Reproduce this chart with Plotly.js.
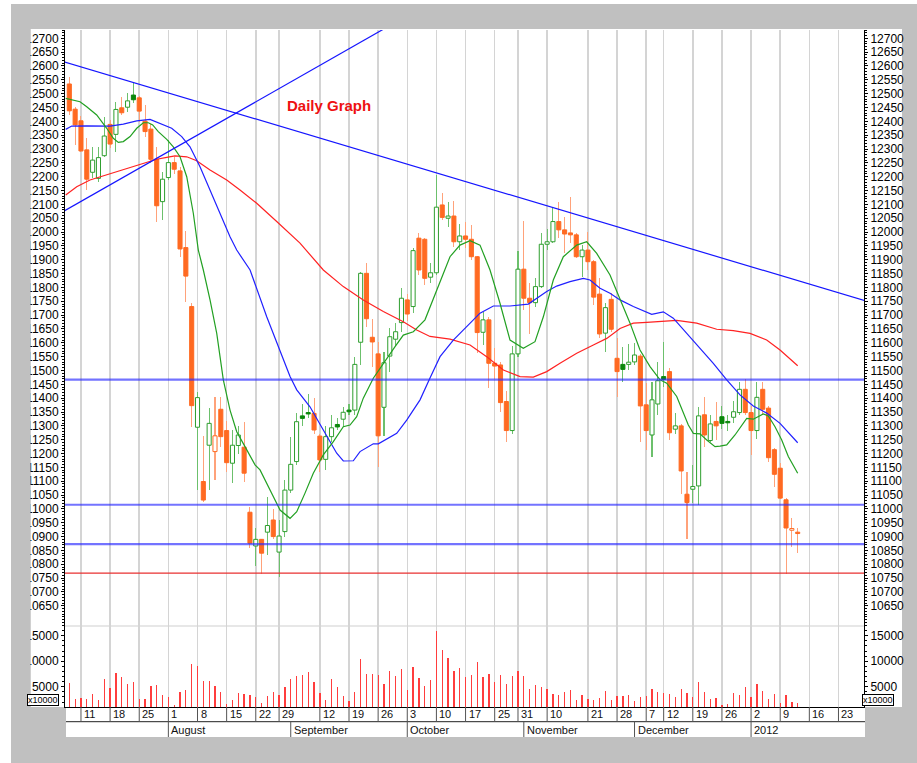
<!DOCTYPE html>
<html>
<head>
<meta charset="utf-8">
<script src="https://cdn.plot.ly/plotly-3.0.1.min.js"></script>
<style>html,body{margin:0;padding:0;background:#fff;}#chart{width:917px;height:763px;}</style>
</head>
<body>
<div id="chart"></div>
<script>
// ---- DATA (trading-day index 0 = first candle) ----
const openP  = [12535,12444,12402,12297,12216,12194,12276,12389,12353,12449,12451,12495,12485,12401,12372,12263,12110,12197,12251,12221,
11944,11731,11295,11099,11230,11207,11360,11283,11165,11229,11223,10988,10866,10890,10916,10960,10844,10918,11068,11171,
11336,11348,11345,11263,11179,11261,11305,11324,11357,11357,11602,11851,11620,11560,11367,11552,11613,11673,11755,11731,
11978,11974,11837,11853,12098,12050,12058,11965,11986,11974,11911,11638,11683,11526,11520,11388,11283,11560,11866,11761,
11745,11803,11956,11965,12038,12008,11997,11990,11911,11935,11893,11776,11635,11757,11544,11522,11522,11531,11552,11376,
11267,11379,11478,11496,11288,11300,11053,11071,11083,11340,11247,11316,11333,11316,11331,11348,11432,11348,11283,11432,
11364,11214,11147,11033,10923,10916];
const highP  = [12559,12452,12419,12340,12306,12308,12417,12405,12469,12487,12501,12537,12490,12459,12390,12308,12218,12333,12270,12236,
12004,11745,11424,11264,11364,11406,11406,11319,11285,11300,11315,11008,10930,10892,11042,11000,10960,11105,11261,11345,
11380,11415,11400,11270,11300,11340,11328,11369,11380,11550,11857,11887,11687,11604,11568,11653,11670,11799,11776,11942,
11998,11980,11890,12206,12140,12110,12113,12030,12038,12026,11915,11713,11694,11580,11530,11427,11590,11933,12041,11815,
11835,11996,12010,12092,12110,12056,12126,11995,11953,12001,11900,11833,11745,11780,11616,11586,11595,11600,11560,11454,
11460,11532,11604,11510,11345,11305,11135,11159,11369,11406,11340,11387,11370,11340,11390,11460,11470,11370,11460,11460,
11370,11220,11166,11039,10966,10930];
const lowP   = [12423,12315,12289,12152,12194,12182,12270,12303,12290,12423,12433,12465,12398,12345,12250,12038,12044,12188,12210,11911,
11749,11297,11068,11025,11068,11105,11225,11135,11095,11200,11099,10858,10794,10765,10834,10890,10755,10900,11057,11159,
11300,11330,11270,11133,11140,11240,11285,11297,11340,11339,11520,11658,11514,11153,11264,11494,11590,11640,11680,11707,
11845,11810,11815,11845,12044,12020,11945,11935,11942,11899,11562,11592,11436,11470,11351,11243,11270,11550,11719,11632,
11730,11797,11935,11962,11978,11923,11960,11905,11839,11863,11737,11616,11568,11640,11403,11460,11500,11520,11243,11213,
11189,11339,11440,11250,11270,11054,10890,11020,11014,11225,11240,11249,11290,11280,11310,11339,11340,11195,11252,11340,
11170,11080,11035,10765,10864,10840];
const closeP = [12438,12387,12293,12191,12260,12269,12347,12318,12443,12431,12474,12478,12437,12363,12263,12095,12191,12251,12227,11939,
11841,11373,11402,11032,11309,11264,11261,11167,11230,11267,11129,10876,10890,10840,10940,10900,10902,11068,11161,11315,
11327,11343,11285,11177,11261,11293,11296,11349,11351,11522,11851,11687,11603,11264,11528,11622,11640,11761,11704,11933,
11863,11833,11853,12090,12053,12058,11965,11986,11974,11911,11637,11683,11526,11516,11384,11283,11560,11866,11761,11745,
11803,11956,11965,12038,12008,11993,11990,11911,11935,11893,11765,11632,11727,11649,11496,11504,11530,11556,11372,11283,
11394,11463,11468,11275,11300,11137,11023,11081,11336,11267,11307,11300,11309,11311,11351,11432,11348,11283,11403,11360,
11185,11125,11039,10931,10929,10911];
const volume = [5670,2590,2720,2590,3570,2390,6510,4800,7750,6840,5530,5920,2590,2590,5200,5330,3430,2920,1350,3960,
4410,9450,9060,6120,6120,5140,3960,1610,2390,3820,3570,3370,2920,1800,3240,3960,3430,4940,6510,7160,
7240,7880,5920,3770,2390,6510,4880,3240,2200,3960,10490,7430,7490,7240,5530,8080,7040,8470,4350,8860,
6710,5140,6310,15920,12200,10690,8080,8670,6840,7240,9780,6840,7430,5920,7240,5530,7040,8080,7040,4550,
5330,4940,4550,3630,3370,3960,4350,2390,3370,2590,2390,2720,4220,2390,3180,3180,3370,2200,3040,3180,
4550,3960,3820,3630,2920,4550,3770,3040,5920,3960,2590,2720,1410,1610,3820,3430,4880,3040,5530,4220,
2590,3630,1800,3370,2000,1800];

// moving averages (x = trading-day index)
const maShortX = [-0.62,1.84,2.99,4.70,6.42,7.55,8.41,9.27,10.42,11.57,12.70,13.56,14.31,15.27,16.72,17.85,19.0,20.15,21.28,22.14,23.0,24.15,25.3,26.43,27.58,28.73,30.15,31.87,32.73,34.44,36.16,37.88,39.03,40.45,41.87,43.59,45.31,47.02,48.17,49.32,50.45,52.17,53.89,55.9,57.32,59.04,61.04,63.05,65.33,67.05,68.77,70.48,72.2,73.91,75.63,77.91,79.92,81.35,83.06,84.78,87.08,88.79,90.51,92.79,94.51,96.23,97.94,99.66,101.38,102.52,104.24,106.23,107.09,108.24,109.39,110.81,111.67,112.82,114.24,115.39,116.25,117.38,119.1,119.96,121.11,122.26,123.39,125.0];
const maShort  = [12483,12471,12453,12423,12375,12339,12324,12327,12345,12375,12395,12395,12387,12363,12335,12308,12272,12200,12068,11935,11863,11755,11634,11466,11357,11279,11225,11159,11141,11068,10996,10966,10990,11057,11129,11195,11243,11297,11303,11333,11400,11472,11526,11586,11628,11640,11683,11791,11911,11953,11969,11953,11863,11743,11610,11580,11604,11694,11827,11911,11953,11965,11923,11845,11755,11671,11574,11514,11466,11454,11406,11303,11273,11271,11249,11225,11227,11231,11267,11303,11327,11324,11343,11336,11297,11249,11189,11129];
const maMidX = [-0.62,0.41,2.99,6.98,9.27,11.57,13.85,15.57,17.57,19.29,20.71,22.43,24.15,25.86,27.58,28.73,31.02,33.88,36.16,37.88,39.03,41.3,43.59,45.89,47.02,48.74,49.89,52.17,53.03,56.19,57.9,60.19,61.9,63.62,65.9,68.2,70.48,72.77,75.63,78.77,80.21,81.93,83.64,85.93,88.21,89.36,91.08,92.79,94.51,96.79,99.95,101.94,103.65,105.95,108.24,110.52,112.82,115.1,117.38,119.68,121.97,125.0];
const maMid  = [12371,12383,12384,12383,12390,12402,12407,12393,12375,12345,12308,12236,12152,12068,11983,11935,11863,11694,11574,11478,11430,11369,11285,11201,11173,11174,11207,11235,11235,11273,11321,11394,11473,11550,11610,11658,11707,11733,11733,11740,11761,11785,11805,11821,11833,11827,11797,11779,11755,11731,11703,11712,11689,11634,11580,11526,11466,11412,11372,11346,11309,11239];
const maLongX = [-0.62,1.27,3.55,6.98,9.85,12.7,15.0,16.72,18.14,20.15,21.86,24.15,27.01,29.29,32.16,35.59,39.59,43.59,47.02,50.45,53.89,57.32,59.62,61.9,65.33,68.77,71.63,74.48,77.35,79.63,81.93,84.21,87.08,89.93,92.23,94.51,96.79,99.09,101.94,104.24,107.67,111.1,113.95,116.82,119.68,121.97,125.0];
const maLong  = [12134,12164,12188,12210,12230,12246,12263,12270,12275,12272,12258,12224,12188,12152,12104,12038,11960,11863,11803,11755,11713,11676,11646,11623,11613,11592,11550,11502,11478,11476,11496,11526,11562,11592,11616,11652,11671,11674,11679,11681,11671,11649,11644,11634,11610,11574,11517];

// drawn trend lines and levels
const trendDownX = [-2, 138], trendDownY = [12622, 11743];
const trendUpX   = [-2, 60],  trendUpY   = [12063, 12806];
const blueLevels = [11467, 11015, 10873];
const redLevels  = [10768];

// axis labels
const dayTickIdx    = [2,7,12,17,22,27,32,36,43,48,53,58,63,68,73,77,82,89,94,99,102,107,112,117,122,127,132];
const dayTickLabels = ['11','18','25','1','8','15','22','29','12','19','26','3','10','17','25','31','10','21','28','7','12','19','26','2','9','16','23'];
const monthIdx      = [17,38,58,78,97,117];
const monthLabels   = ['August','September','October','November','December','2012'];
const priceTicks = []; for (let v = 10650; v <= 12700; v += 50) priceTicks.push(v);
const volTicks = [5000,10000,15000];

// ---- styling ----
const ORANGE='#ff6a22', GREEN='#2e9e2e', DKGREEN='#0a870a', OR_WICK='#ffa27a', GR_WICK='#6cc06c';
const FONT='Liberation Sans, Arial, sans-serif';
const XR=[-0.74,136.38];

const idx = closeP.map((_,i)=>i);
const bodyBase=[], bodyLen=[], bodyFill=[], bodyLine=[], wickCol=[], wickBase=[], wickLen=[];
for (let i=0;i<closeP.length;i++){
  const prev = i>0 ? closeP[i-1] : Infinity;
  const up = closeP[i] >= prev;
  const filled = closeP[i] < openP[i];
  const col = up ? GREEN : ORANGE;
  const fill = filled ? (up ? DKGREEN : ORANGE) : '#ffffff';
  bodyBase.push(Math.min(openP[i],closeP[i]));
  bodyLen.push(Math.max(Math.abs(closeP[i]-openP[i]),2));
  bodyFill.push(fill);
  bodyLine.push(filled ? fill : col);
  wickCol.push(up ? GR_WICK : OR_WICK);
  wickBase.push(lowP[i]);
  wickLen.push(highP[i]-lowP[i]);
}

const traces = [];
traces.push({type:'bar', x:idx, y:volume, xaxis:'x', yaxis:'y2', width:0.22,
  marker:{color:'#ff3d3d', line:{width:0}}, hoverinfo:'skip'});
traces.push({type:'bar', x:idx, y:wickLen, base:wickBase, xaxis:'x', yaxis:'y', width:0.18,
  marker:{color:wickCol, line:{width:0}}, hoverinfo:'skip'});
traces.push({type:'bar', x:idx, y:bodyLen, base:bodyBase, xaxis:'x', yaxis:'y', width:0.7,
  marker:{color:bodyFill, line:{color:bodyLine, width:1}}, hoverinfo:'skip'});
traces.push({type:'scatter', mode:'lines', x:maLongX, y:maLong, yaxis:'y', line:{color:'#ff2222', width:1.2}});
traces.push({type:'scatter', mode:'lines', x:maMidX, y:maMid, yaxis:'y', line:{color:'#2020ff', width:1.2}});
traces.push({type:'scatter', mode:'lines', x:maShortX, y:maShort, yaxis:'y', line:{color:'#22a022', width:1.2}});
traces.push({type:'scatter', mode:'lines', x:trendDownX, y:trendDownY, yaxis:'y', line:{color:'#1515ff', width:1.2}});
traces.push({type:'scatter', mode:'lines', x:trendUpX, y:trendUpY, yaxis:'y', line:{color:'#1515ff', width:1.2}});
blueLevels.forEach(v=>traces.push({type:'scatter', mode:'lines', x:[-2,140], y:[v,v], yaxis:'y', line:{color:'rgba(40,40,255,0.65)', width:2.2}}));
redLevels.forEach(v=>traces.push({type:'scatter', mode:'lines', x:[-2,140], y:[v,v], yaxis:'y', line:{color:'#e83030', width:1.3}}));
// anchors for right-hand axes
traces.push({type:'scatter', mode:'markers', x:[null], y:[null], yaxis:'y3', marker:{opacity:0}});
traces.push({type:'scatter', mode:'markers', x:[null], y:[null], yaxis:'y4', marker:{opacity:0}});

// geometry helpers (paper coordinates from pixels of the frame)
const PL=65, PW=799, PT=30, PH=677;
const px=(p)=>(p-PL)/PW, py=(p)=>(PT+PH-p)/PH;
const split = py(626);

const yCommon = {showline:true, linecolor:'#000', linewidth:1, ticks:'outside', ticklen:3, tickcolor:'#000',
  showgrid:false, zeroline:false, tickfont:{family:FONT, size:12, color:'#000'}, tickformat:'d'};
const priceAx = Object.assign({}, yCommon, {domain:[split,1], range:[10577,12730], tickmode:'array', tickvals:priceTicks,
  minor:{tickmode:'linear', tick0:10580, dtick:10, ticks:'outside', ticklen:2, tickcolor:'#000', showgrid:false}});
const volAx = Object.assign({}, yCommon, {domain:[0,split], range:[1020,16903], tickmode:'array', tickvals:volTicks,
  minor:{tickmode:'linear', tick0:0, dtick:1000, ticks:'outside', ticklen:2, tickcolor:'#000', showgrid:false}});

const CLIP = 30.5;
const shapes = [
  {type:'rect', xref:'paper', yref:'paper', x0:px(11), x1:px(917), y0:py(763), y1:py(4), fillcolor:'#c0c0c0', line:{width:0}, layer:'below'},
  {type:'rect', xref:'paper', yref:'paper', x0:px(CLIP), x1:px(902), y0:0, y1:py(29), fillcolor:'#ffffff', line:{width:0}, layer:'below'},
  {type:'rect', xref:'paper', yref:'paper', x0:px(66), x1:px(865), y0:py(737), y1:0, fillcolor:'#ffffff', line:{width:0}, layer:'below'},
  {type:'line', xref:'paper', yref:'paper', x0:0, x1:1, y0:split, y1:split, line:{color:'#cfcfcf', width:1}, layer:'below'},
  {type:'rect', xref:'paper', yref:'paper', x0:px(11), x1:px(CLIP), y0:py(707), y1:py(29), fillcolor:'#c0c0c0', line:{width:0}, layer:'above'},
  {type:'line', xref:'paper', yref:'paper', x0:px(66), x1:px(865), y0:py(721.7), y1:py(721.7), line:{color:'#222', width:1}}
];
dayTickIdx.forEach(t=>shapes.push({type:'line', xref:'x', yref:'paper', x0:t, x1:t, y0:0, y1:py(721.7), line:{color:'#555', width:1}}));
monthIdx.forEach(t=>shapes.push({type:'line', xref:'x', yref:'paper', x0:t, x1:t, y0:py(721.7), y1:py(737), line:{color:'#555', width:1}}));

const annotations = [
  {text:'<b>Daily Graph</b>', x:37.0, y:12459, xref:'x', yref:'y', xanchor:'left', yanchor:'middle', showarrow:false,
   font:{family:FONT, size:15, color:'#ee1111'}},
  {text:'x10000', xref:'paper', yref:'paper', x:px(43.3), y:py(700), xanchor:'center', yanchor:'middle', showarrow:false,
   font:{family:FONT, size:9, color:'#000'}, bordercolor:'#000', borderwidth:1, borderpad:0, bgcolor:'#fff'},
  {text:'x10000', xref:'paper', yref:'paper', x:px(878.3), y:py(700), xanchor:'center', yanchor:'middle', showarrow:false,
   font:{family:FONT, size:9, color:'#000'}, bordercolor:'#000', borderwidth:1, borderpad:0, bgcolor:'#fff'}
];
dayTickIdx.forEach((t,k)=>annotations.push({text:dayTickLabels[k], x:t, xref:'x', yref:'paper', y:py(714.3), xanchor:'left', yanchor:'middle',
  xshift:1, showarrow:false, font:{family:FONT, size:11, color:'#111'}}));
monthIdx.forEach((t,k)=>annotations.push({text:monthLabels[k], x:t, xref:'x', yref:'paper', y:py(729.5), xanchor:'left', yanchor:'middle',
  xshift:1, showarrow:false, font:{family:FONT, size:11, color:'#111'}}));

const layout = {
  width:917, height:763, margin:{l:PL, r:917-PL-PW, t:PT, b:763-PT-PH},
  paper_bgcolor:'#ffffff', plot_bgcolor:'rgba(0,0,0,0)', showlegend:false, barmode:'overlay', bargap:0,
  xaxis:{range:XR, anchor:'y2', tickmode:'array', tickvals:dayTickIdx, showticklabels:false, ticks:'',
    showgrid:true, gridcolor:'#d4d4d4', gridwidth:1.5, zeroline:false, showline:true, linecolor:'#000', linewidth:1},
  yaxis: Object.assign({}, priceAx, {anchor:'x', side:'left'}),
  yaxis2: Object.assign({}, volAx, {anchor:'x', side:'left'}),
  yaxis3: Object.assign({}, priceAx, {overlaying:'y', anchor:'x', side:'right'}),
  yaxis4: Object.assign({}, volAx, {overlaying:'y2', anchor:'x', side:'right'}),
  shapes: shapes, annotations: annotations
};
Plotly.newPlot('chart', traces, layout, {staticPlot:true, displayModeBar:false});
</script>
</body>
</html>
